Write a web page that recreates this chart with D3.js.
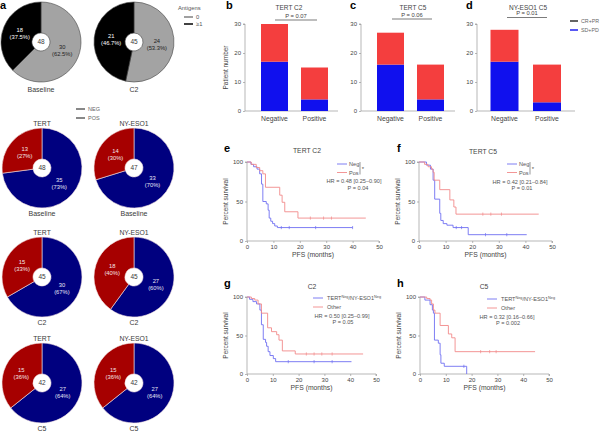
<!DOCTYPE html>
<html><head><meta charset="utf-8">
<script src="https://cdn.jsdelivr.net/npm/d3@7/dist/d3.min.js"></script>
<style>
body{margin:0;background:#fff;}
svg{font-family:"Liberation Sans",Arial,sans-serif;}
.ax path,.ax line{stroke:#999;stroke-width:0.7;}
.ax text{fill:#444;font-size:6px;}
</style></head><body>
<svg id="c" width="600" height="435"></svg>
<script>
// ---------- DATA ----------
const antigenGroups = ["0", "≥1"];
const antigenBaseline = [30, 18];
const antigenC2 = [24, 21];

const statusGroups = ["NEG", "POS"];
const tertBaseline = [35, 13];
const nyBaseline = [33, 14];
const tertC2 = [30, 15];
const nyC2 = [27, 18];
const tertC5 = [27, 15];
const nyC5 = [27, 15];

const responseCats = ["Negative", "Positive"];
const responseGroups = ["CR+PR", "SD+PD"];
const tertC2_SDPD = [17, 4], tertC2_CRPR = [13, 11];
const tertC5_SDPD = [16, 4], tertC5_CRPR = [11, 12];
const nyC5_SDPD = [17, 3], nyC5_CRPR = [11, 13];
const barTicks = [0, 10, 20, 30];

const kmXTicks = [0, 10, 20, 30, 40, 50];
const kmYTicks = [0, 50, 100];
// [months, percent survival] at each step
const eNeg = [[0,100],[1.5,97],[2.5,94],[3.8,91],[4.8,85],[5.5,72],[6,50],[7.3,47],[8,39],[8.4,29],[9,25],[9.7,22],[10.5,19],[11.5,17]];
const eNegEnd = 40, eNegCens = [13,16,26,40];
const ePos = [[0,100],[1.6,97],[3.5,93],[4.8,89],[6,85],[7,68],[12.4,58],[13.3,49],[14.3,37],[19.3,29]];
const ePosEnd = 45, ePosCens = [24,29,32];
const fNeg = [[0,100],[2.8,96],[4.3,91],[5.3,77],[5.9,53],[7.8,35],[8.2,26],[9.1,22],[10.5,20],[12.8,17],[18.5,8]];
const fNegEnd = 40.5, fNegCens = [14,16,25,33];
const fPos = [[0,100],[2.1,97],[3.4,94],[4.7,91],[5.3,87],[5.7,77],[7.8,65],[11.6,52],[13.1,43],[13.9,34]];
const fPosEnd = 45, fPosCens = [24,27,31];
const gNeg = [[0,100],[1,97],[2.3,94],[3.7,91],[5,83],[5.6,64],[6.3,45],[7.2,41],[7.6,36],[8.2,29],[8.9,24],[10.2,20],[11.1,16]];
const gNegEnd = 40.5, gNegCens = [16,26,33];
const gPos = [[0,100],[1.7,98],[3,96],[4.3,91],[5.6,79],[8,60],[9.5,55],[11.5,51],[12.4,44],[13.7,30],[18.7,26]];
const gPosEnd = 45, gPosCens = [23,26,29,33];
const hNeg = [[0,100],[1.9,96],[3.9,90],[4.8,83],[5.2,79],[5.6,44],[7.1,40],[7.8,25],[8.1,14],[9.4,10],[18.1,0]];
const hNegEnd = 18.1, hNegCens = [17];
const hPos = [[0,100],[2.6,98],[3.9,96],[4.5,91],[5.2,83],[5.8,79],[7.8,63],[11,52],[12.3,47],[13.6,29]];
const hPosEnd = 44.6, hPosCens = [23.5,27,29.5];

// ---------- DRAW ----------
const svg = d3.select("#c");
const TXT = "#3a3a3a";

function letter(t, x, y){ svg.append("text").attr("x",x).attr("y",y).attr("font-size",11).attr("font-weight","bold").attr("fill","#000").text(t); }
function txt(t, x, y, size, anchor, fill){ return svg.append("text").attr("x",x).attr("y",y).attr("font-size",size||6.5).attr("text-anchor",anchor||"middle").attr("fill",fill||TXT).text(t); }

// ---- pies ----
function pie(values, colors, labelFills, cx, cy, decimals, title, sub, stroke, subDy){
  const R = 40;
  const total = d3.sum(values);
  const g = svg.append("g").attr("transform",`translate(${cx},${cy})`);
  const arcs = d3.pie().sort(null)(values);
  const arc = d3.arc().innerRadius(9).outerRadius(R);
  const lab = d3.arc().innerRadius(23).outerRadius(23);
  g.selectAll("path").data(arcs).join("path").attr("d",arc)
    .attr("fill",(d,i)=>colors[i]).attr("stroke",stroke).attr("stroke-width",0.6);
  arcs.forEach((a,i)=>{
    const [x,y] = lab.centroid(a);
    const p = d3.format(decimals?".1f":".0f")(a.value/total*100);
    const t = g.append("text").attr("text-anchor","middle").attr("font-size",5.8).attr("fill",labelFills[i]);
    t.append("tspan").attr("x",x).attr("y",y-1.5).text(a.value);
    t.append("tspan").attr("x",x).attr("y",y+5.5).text(`(${p}%)`);
  });
  g.append("text").attr("text-anchor","middle").attr("y",2.2).attr("font-size",6.5).attr("fill",TXT).text(total);
  if(title) txt(title, cx, cy-42, 6.8);
  txt(sub, cx, cy+(subDy||48), 7);
}

letter("a", 0, 9);
const grayCols = ["#a3a3a3","#000"];
pie(antigenBaseline, grayCols, ["#222","#fff"], 41, 42, true, null, "Baseline", "#444", 50);
pie(antigenC2, grayCols, ["#222","#fff"], 134, 42, true, null, "C2", "#444", 50);
// antigen legend
txt("Antigens", 178, 10, 5.8, "start", "#555");
antigenGroups.forEach((gname,i)=>{
  svg.append("line").attr("x1",184).attr("x2",193).attr("y1",17+i*7).attr("y2",17+i*7).attr("stroke",i?"#111":"#888").attr("stroke-width",1.6);
  txt(gname, 196, 19+i*7, 5.8, "start", "#555");
});
// status legend
statusGroups.forEach((gname,i)=>{
  svg.append("line").attr("x1",76).attr("x2",85).attr("y1",109+i*9).attr("y2",109+i*9).attr("stroke","#555").attr("stroke-width",1.4);
  txt(gname, 88, 111+i*9, 5.5, "start", "#666");
});
const rbCols = ["#00007f","#a60000"];
const rbLab = ["#e6e6f5","#f5e6e6"];
const stroke2 = "#f3e3e3";
pie(tertBaseline, rbCols, rbLab, 42, 168, false, "TERT", "Baseline", stroke2);
pie(nyBaseline, rbCols, rbLab, 134, 168, false, "NY-ESO1", "Baseline", stroke2);
pie(tertC2, rbCols, rbLab, 42, 277, false, "TERT", "C2", stroke2);
pie(nyC2, rbCols, rbLab, 134, 277, false, "NY-ESO1", "C2", stroke2);
pie(tertC5, rbCols, rbLab, 42, 383, false, "TERT", "C5", stroke2);
pie(nyC5, rbCols, rbLab, 134, 383, false, "NY-ESO1", "C5", stroke2);

// ---- bars ----
const yBar = d3.scaleLinear().domain([0,30]).range([111,24]);
function bars(cfg){
  const {axisX, xEnd, c0, c1, bw, sd, cr, title, tx, ptxt, px, pl0, pl1, py, ylab} = cfg;
  const x = d3.scalePoint().domain(responseCats).range([c0,c1]);
  svg.append("g").attr("class","ax").attr("transform",`translate(${axisX},0)`)
    .call(d3.axisLeft(yBar).tickValues(barTicks).tickSize(2).tickPadding(2))
    .call(g=>g.select(".domain").attr("d",`M-2,${yBar(30)}H0V${yBar(0)}`));
  svg.append("line").attr("x1",axisX).attr("x2",xEnd).attr("y1",yBar(0)).attr("y2",yBar(0)).attr("stroke","#999").attr("stroke-width",0.7);
  responseCats.forEach((c,i)=>{
    svg.append("rect").attr("x",x(c)-bw/2).attr("width",bw).attr("y",yBar(sd[i])).attr("height",yBar(0)-yBar(sd[i])).attr("fill","#1010ee");
    svg.append("rect").attr("x",x(c)-bw/2).attr("width",bw).attr("y",yBar(sd[i]+cr[i])).attr("height",yBar(sd[i])-yBar(sd[i]+cr[i])).attr("fill","#f43e3e");
    txt(c, x(c), 121, 6.8, "middle", "#444");
  });
  txt(title, tx, 10, 6.5, "middle", "#444");
  txt(ptxt, px, py-2.5, 5.8, "middle", "#444");
  svg.append("line").attr("x1",pl0).attr("x2",pl1).attr("y1",py).attr("y2",py).attr("stroke","#444").attr("stroke-width",0.7);
  if(ylab) svg.append("text").attr("transform",`translate(${axisX-17},${yBar(15)}) rotate(-90)`).attr("text-anchor","middle").attr("font-size",6.5).attr("fill","#444").text("Patient number");
}
letter("b", 226, 9);
bars({axisX:245, xEnd:338, c0:274.5, c1:314.5, bw:27, sd:tertC2_SDPD, cr:tertC2_CRPR, title:"TERT C2", tx:289, ptxt:"P = 0.07", px:296, pl0:275, pl1:317, py:20, ylab:true});
letter("c", 350, 9);
bars({axisX:361, xEnd:455, c0:390.5, c1:430.5, bw:27, sd:tertC5_SDPD, cr:tertC5_CRPR, title:"TERT C5", tx:413, ptxt:"P = 0.06", px:412, pl0:392, pl1:432, py:19});
letter("d", 466, 9);
bars({axisX:477, xEnd:575, c0:504.5, c1:547, bw:28, sd:nyC5_SDPD, cr:nyC5_CRPR, title:"NY-ESO1 C5", tx:528, ptxt:"P = 0.01", px:527, pl0:507, pl1:547, py:17.5});
responseGroups.forEach((gname,i)=>{
  svg.append("line").attr("x1",570).attr("x2",578).attr("y1",21+i*9).attr("y2",21+i*9).attr("stroke",i?"#1010ee":"#222").attr("stroke-width",1.4);
  txt(gname, 581, 23+i*9, 5.3, "start", "#666");
});

// ---- KM ----
const BLUE = "#6f6ff2", RED = "#f28a8a";
function survAt(steps, t){ let s = steps[0][1]; steps.forEach(d=>{ if(d[0]<=t) s=d[1]; }); return s; }
function km(cfg){
  const {x0,x1,y0,y1,title,tx,ty,curves,legend} = cfg;
  const x = d3.scaleLinear().domain([0,50]).range([x0,x1]);
  const y = d3.scaleLinear().domain([0,100]).range([y0,y1]);
  svg.append("g").attr("class","ax").attr("transform",`translate(0,${y0})`)
    .call(d3.axisBottom(x).tickValues(kmXTicks).tickSize(2).tickPadding(2))
    .call(g=>g.select(".domain").attr("d",`M${x0},0H${x1}V2`));
  svg.append("g").attr("class","ax").attr("transform",`translate(${x0},0)`)
    .call(d3.axisLeft(y).tickValues(kmYTicks).tickSize(2).tickPadding(2))
    .call(g=>g.select(".domain").attr("d",`M-2,${y1}H0V${y0}`));
  txt("PFS (months)", (x0+x1)/2, y0+16, 6.8, "middle", "#444");
  svg.append("text").attr("transform",`translate(${x0-19},${(y0+y1)/2}) rotate(-90)`).attr("text-anchor","middle").attr("font-size",6.5).attr("fill","#444").text("Percent survival");
  txt(title, tx, ty, 6.8, "middle", "#444");
  const line = d3.line().x(d=>x(d[0])).y(d=>y(d[1])).curve(d3.curveStepAfter);
  curves.forEach(c=>{
    const pts = c.steps.concat([[c.end, c.steps[c.steps.length-1][1]]]);
    svg.append("path").attr("d",line(pts)).attr("fill","none").attr("stroke",c.color).attr("stroke-width",0.9);
    c.cens.forEach(t=>{
      const s = survAt(c.steps,t);
      svg.append("line").attr("x1",x(t)).attr("x2",x(t)).attr("y1",y(s)-1.6).attr("y2",y(s)+1.6).attr("stroke",c.color).attr("stroke-width",0.7);
    });
  });
  legend();
}
function legNP(lx, ly){
  [["Neg",BLUE],["Pos",RED]].forEach((d,i)=>{
    svg.append("line").attr("x1",lx).attr("x2",lx+10).attr("y1",ly+i*8.5).attr("y2",ly+i*8.5).attr("stroke",d[1]).attr("stroke-width",0.9);
    txt(d[0], lx+12, ly+2+i*8.5, 5.6, "start", "#555");
  });
  svg.append("line").attr("x1",lx+23).attr("x2",lx+23).attr("y1",ly-2).attr("y2",ly+10.5).attr("stroke","#555").attr("stroke-width",0.6);
  txt("*", lx+26, ly+7, 6, "middle", "#555");
}
function legOther(lx, ly){
  const b = svg.append("text").attr("x",lx+14).attr("y",ly+2).attr("font-size",5.6).attr("fill","#555");
  b.append("tspan").text("TERT");
  b.append("tspan").attr("font-size",3.8).attr("dy",-2).text("Neg");
  b.append("tspan").attr("dy",2).text("/NY-ESO1");
  b.append("tspan").attr("font-size",3.8).attr("dy",-2).text("Neg");
  svg.append("line").attr("x1",lx).attr("x2",lx+10).attr("y1",ly).attr("y2",ly).attr("stroke",BLUE).attr("stroke-width",0.9);
  svg.append("line").attr("x1",lx).attr("x2",lx+10).attr("y1",ly+9).attr("y2",ly+9).attr("stroke",RED).attr("stroke-width",0.9);
  txt("Other", lx+14, ly+11, 5.6, "start", "#555");
}
letter("e", 224, 152);
km({x0:247,x1:379,y0:241,y1:162,title:"TERT C2",tx:307,ty:153,
  curves:[{steps:eNeg,end:eNegEnd,cens:eNegCens,color:BLUE},{steps:ePos,end:ePosEnd,cens:ePosCens,color:RED}],
  legend:()=>{ legNP(337,164); txt("HR = 0.48 [0.25–0.90]", 354, 183, 5.6, "middle", "#555"); txt("P = 0.04", 358, 190, 5.6, "middle", "#555"); }});
letter("f", 397, 152);
km({x0:419,x1:552,y0:241,y1:162,title:"TERT C5",tx:483,ty:154,
  curves:[{steps:fNeg,end:fNegEnd,cens:fNegCens,color:BLUE},{steps:fPos,end:fPosEnd,cens:fPosCens,color:RED}],
  legend:()=>{ legNP(507,164); txt("HR = 0.42 [0.21–0.84]", 520, 184, 5.6, "middle", "#555"); txt("P = 0.01", 522, 190, 5.6, "middle", "#555"); }});
letter("g", 224, 287);
km({x0:247,x1:376,y0:374,y1:297,title:"C2",tx:312,ty:289,
  curves:[{steps:gNeg,end:gNegEnd,cens:gNegCens,color:BLUE},{steps:gPos,end:gPosEnd,cens:gPosCens,color:RED}],
  legend:()=>{ legOther(313,298); txt("HR = 0.50 [0.25–0.99]", 342, 318, 5.6, "middle", "#555"); txt("P = 0.05", 343, 324, 5.6, "middle", "#555"); }});
letter("h", 397, 287);
km({x0:420,x1:549,y0:374,y1:297,title:"C5",tx:484,ty:289,
  curves:[{steps:hNeg,end:hNegEnd,cens:hNegCens,color:BLUE},{steps:hPos,end:hPosEnd,cens:hPosCens,color:RED}],
  legend:()=>{ legOther(487,299); txt("HR = 0.32 [0.16–0.66]", 507, 319, 5.6, "middle", "#555"); txt("P = 0.002", 508, 325, 5.6, "middle", "#555"); }});
</script></body></html>
